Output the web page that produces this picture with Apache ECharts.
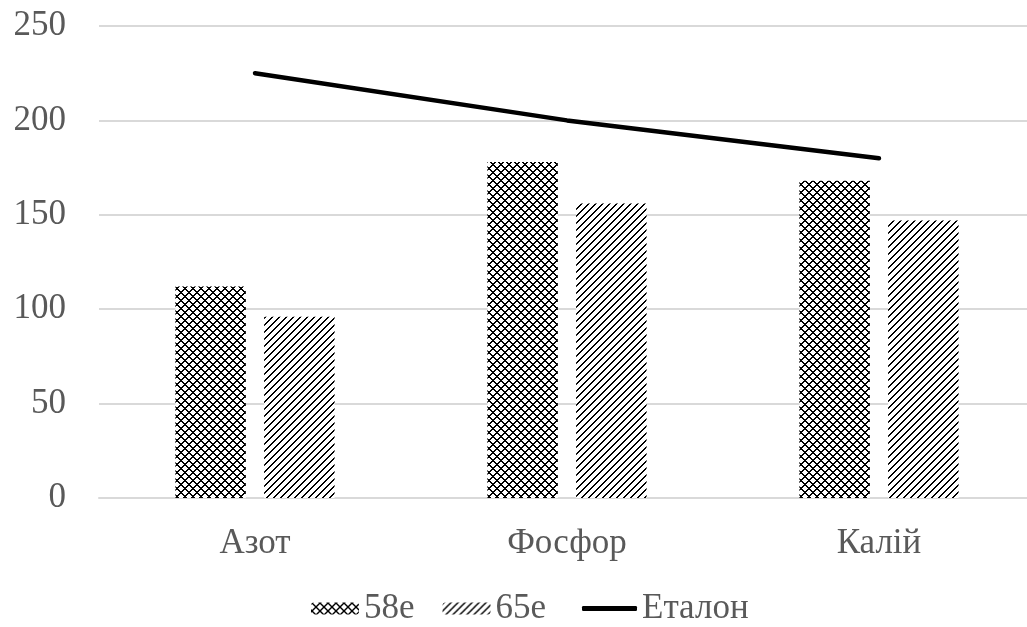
<!DOCTYPE html>
<html>
<head>
<meta charset="utf-8">
<script src="https://cdn.jsdelivr.net/npm/echarts@6/dist/echarts.min.js"></script>
<style>
  html, body { margin: 0; padding: 0; background: #ffffff; overflow: hidden; }
  /* gridlines run past the right edge, so the canvas is a little wider than the page */
  #chart { width: 1040px; height: 627px; }
</style>
</head>
<body>
<div id="chart"></div>
<script>
// Nutrient categories and values
const categories = ['Азот', 'Фосфор', 'Калій'];
const values58e = [112, 178, 168];
const values65e = [96, 156, 147];
const valuesEtalon = [225, 200, 180];
const yTicks = { min: 0, max: 250, step: 50 };

// Bitmap fill: dotted-diamond lattice
function diamondPattern() {
  const c = document.createElement('canvas');
  c.width = 8; c.height = 8;
  const ctx = c.getContext('2d');
  ctx.fillStyle = '#ffffff';
  ctx.fillRect(0, 0, 8, 8);
  ctx.fillStyle = '#000000';
  for (let y = 0; y < 8; y++) {
    for (let x = 0; x < 8; x++) {
      if ((x + y) % 8 < 2 || ((x - y + 8) % 8) < 2) ctx.fillRect(x, y, 1, 1);
    }
  }
  return c;
}

// Bitmap fill: wide upward diagonal stripes
function stripePattern() {
  const c = document.createElement('canvas');
  c.width = 7; c.height = 7;
  const ctx = c.getContext('2d');
  ctx.fillStyle = '#ffffff';
  ctx.fillRect(0, 0, 7, 7);
  ctx.fillStyle = '#000000';
  for (let y = 0; y < 7; y++) {
    for (let x = 0; x < 7; x++) {
      if ((x + y) % 7 < 2) ctx.fillRect(x, y, 1, 1);
    }
  }
  return c;
}

const fontFamily = '"Liberation Serif", "Times New Roman", serif';
const textColor = '#595959';
const legendText = { fontFamily: fontFamily, fontSize: 35, color: textColor };

const chart = echarts.init(document.getElementById('chart'), null, { renderer: 'canvas' });
chart.setOption({
  animation: false,
  backgroundColor: '#ffffff',
  grid: { left: 99, top: 26, width: 936, height: 472, containLabel: false },
  legend: [
    {
      left: 306,
      top: 586,
      itemWidth: 48,
      itemHeight: 12,
      itemGap: 28,
      textStyle: legendText,
      data: ['58е', '65е']
    },
    {
      left: 577,
      top: 586,
      itemWidth: 55,
      itemHeight: 5,
      icon: 'roundRect',
      textStyle: legendText,
      data: ['Еталон']
    }
  ],
  xAxis: {
    type: 'category',
    data: categories,
    axisLine: { lineStyle: { color: '#d9d9d9', width: 2 } },
    axisTick: { show: false },
    axisLabel: { fontFamily: fontFamily, fontSize: 35, color: textColor, margin: 28 }
  },
  yAxis: {
    type: 'value',
    min: yTicks.min,
    max: yTicks.max,
    interval: yTicks.step,
    axisLine: { show: false },
    axisTick: { show: false },
    axisLabel: { fontFamily: fontFamily, fontSize: 35, color: textColor, margin: 33 },
    splitLine: { lineStyle: { color: '#d9d9d9', width: 2 } }
  },
  series: [
    {
      name: '58е',
      type: 'bar',
      data: values58e,
      barGap: '26%',
      barCategoryGap: '49%',
      itemStyle: { color: { image: diamondPattern(), repeat: 'repeat' } }
    },
    {
      name: '65е',
      type: 'bar',
      data: values65e,
      itemStyle: { color: { image: stripePattern(), repeat: 'repeat' } }
    },
    {
      name: 'Еталон',
      type: 'line',
      data: valuesEtalon,
      symbol: 'none',
      lineStyle: { color: '#000000', width: 4.5, cap: 'round', join: 'round' },
      itemStyle: { color: '#000000' }
    }
  ]
});
</script>
</body>
</html>
